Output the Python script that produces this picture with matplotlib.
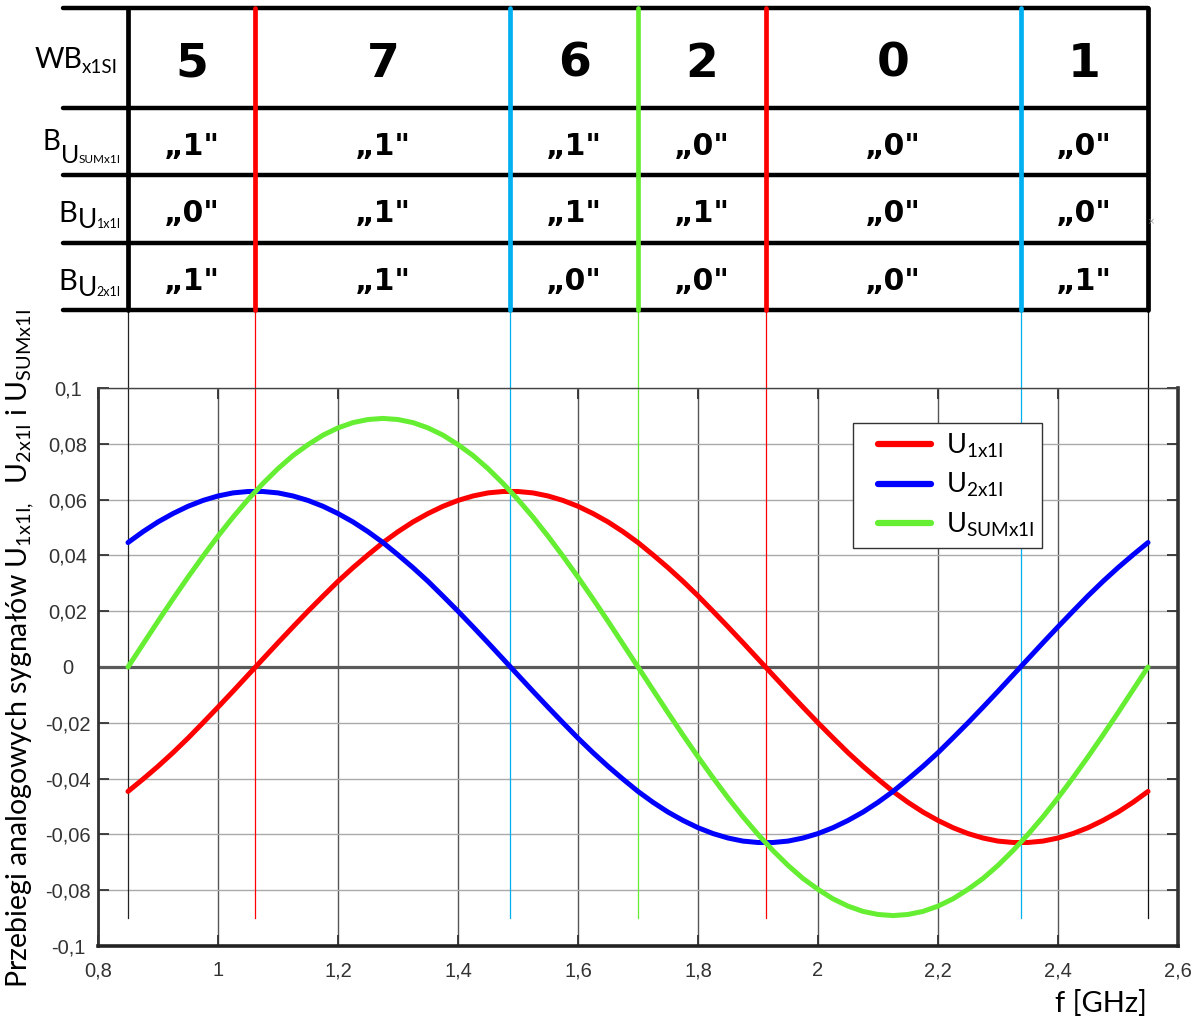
import matplotlib
matplotlib.use('Agg')
import matplotlib.pyplot as plt
from matplotlib.ticker import MultipleLocator, FuncFormatter
from matplotlib.legend_handler import HandlerLine2D
from matplotlib.lines import Line2D

plt.rcParams['mathtext.default'] = 'regular'

# ---------------- data ----------------
freq = [0.850, 0.875, 0.900, 0.925, 0.950, 0.975, 1.000, 1.025, 1.050, 1.075,
        1.100, 1.125, 1.150, 1.175, 1.200, 1.225, 1.250, 1.275, 1.300, 1.325,
        1.350, 1.375, 1.400, 1.425, 1.450, 1.475, 1.500, 1.525, 1.550, 1.575,
        1.600, 1.625, 1.650, 1.675, 1.700, 1.725, 1.750, 1.775, 1.800, 1.825,
        1.850, 1.875, 1.900, 1.925, 1.950, 1.975, 2.000, 2.025, 2.050, 2.075,
        2.100, 2.125, 2.150, 2.175, 2.200, 2.225, 2.250, 2.275, 2.300, 2.325,
        2.350, 2.375, 2.400, 2.425, 2.450, 2.475, 2.500, 2.525, 2.550]
u1 = [-0.0446, -0.0402, -0.0356, -0.0307, -0.0255, -0.0200, -0.0144, -0.0087, -0.0029, 0.0029,
      0.0087, 0.0144, 0.0200, 0.0254, 0.0307, 0.0356, 0.0402, 0.0446, 0.0485, 0.0520,
      0.0550, 0.0576, 0.0597, 0.0613, 0.0624, 0.0629, 0.0629, 0.0624, 0.0613, 0.0597,
      0.0576, 0.0550, 0.0520, 0.0485, 0.0446, 0.0402, 0.0356, 0.0307, 0.0255, 0.0200,
      0.0144, 0.0087, 0.0029, -0.0029, -0.0087, -0.0144, -0.0200, -0.0254, -0.0307, -0.0356,
      -0.0402, -0.0446, -0.0485, -0.0520, -0.0550, -0.0576, -0.0597, -0.0613, -0.0624, -0.0629,
      -0.0629, -0.0624, -0.0613, -0.0597, -0.0576, -0.0550, -0.0520, -0.0485, -0.0446]
u2 = [0.0446, 0.0485, 0.0520, 0.0550, 0.0576, 0.0597, 0.0613, 0.0624, 0.0629, 0.0629,
      0.0624, 0.0613, 0.0597, 0.0576, 0.0550, 0.0520, 0.0485, 0.0446, 0.0402, 0.0356,
      0.0307, 0.0254, 0.0200, 0.0144, 0.0087, 0.0029, -0.0029, -0.0087, -0.0144, -0.0200,
      -0.0255, -0.0307, -0.0356, -0.0402, -0.0446, -0.0485, -0.0520, -0.0550, -0.0576, -0.0597,
      -0.0613, -0.0624, -0.0629, -0.0629, -0.0624, -0.0613, -0.0597, -0.0576, -0.0550, -0.0520,
      -0.0485, -0.0446, -0.0402, -0.0356, -0.0307, -0.0254, -0.0200, -0.0144, -0.0087, -0.0029,
      0.0029, 0.0087, 0.0144, 0.0200, 0.0255, 0.0307, 0.0356, 0.0402, 0.0446]
usum = [0.0, 0.0082, 0.0164, 0.0244, 0.0322, 0.0397, 0.0469, 0.0537, 0.0600, 0.0658,
        0.0711, 0.0758, 0.0797, 0.0831, 0.0857, 0.0876, 0.0887, 0.0891, 0.0887, 0.0876,
        0.0857, 0.0831, 0.0797, 0.0758, 0.0711, 0.0658, 0.0600, 0.0537, 0.0469, 0.0397,
        0.0322, 0.0244, 0.0164, 0.0082, 0.0, -0.0082, -0.0164, -0.0244, -0.0322, -0.0397,
        -0.0469, -0.0537, -0.0600, -0.0658, -0.0711, -0.0758, -0.0797, -0.0831, -0.0857, -0.0876,
        -0.0887, -0.0891, -0.0887, -0.0876, -0.0857, -0.0831, -0.0797, -0.0758, -0.0711, -0.0658,
        -0.0600, -0.0537, -0.0469, -0.0397, -0.0322, -0.0244, -0.0164, -0.0082, 0.0]

series_labels = ['U$_{1x1I}$', 'U$_{2x1I}$', 'U$_{SUMx1I}$']
series_colors = ['#FF0000', '#0000FF', '#66EE33']

# zero-crossing boundaries (GHz) and their marker colours
bounds = [0.85, 1.0625, 1.4875, 1.70, 1.9125, 2.3375, 2.55]
bound_colors = ['#222222', '#FF0000', '#00B0F0', '#66EE33', '#FF0000', '#00B0F0', '#111111']

# table contents
wb_values = [5, 7, 6, 2, 0, 1]
b_usum = [1, 1, 1, 0, 0, 0]
b_u1 = [0, 1, 1, 1, 0, 0]
b_u2 = [1, 1, 0, 0, 0, 1]

xticks = [0.8, 1.0, 1.2, 1.4, 1.6, 1.8, 2.0, 2.2, 2.4, 2.6]
xlim = (0.8, 2.6)
ylim = (-0.1, 0.1)

# ---------------- layout ----------------
W, H = 1203, 1019
fig = plt.figure(figsize=(W / 100, H / 100), dpi=100)


def fx(px):
    return px / W


def fy(py):
    return 1 - py / H


AX_L, AX_R, AX_T, AX_B = 98, 1178, 388, 946
TAB_T, TAB_B = 8, 310
row_lines = [8, 108, 175, 243, 310]

ax = fig.add_axes([fx(AX_L), fy(AX_B), (AX_R - AX_L) / W, (AX_B - AX_T) / H])
ax.set_xlim(*xlim)
ax.set_ylim(*ylim)

ax.yaxis.set_major_locator(MultipleLocator(0.02))
ax.set_xticks(xticks)


def comma_fmt(v, pos=None):
    v = round(v, 3)
    if abs(v) < 1e-9:
        return '0'
    return ('%g' % v).replace('.', ',')


ax.xaxis.set_major_formatter(FuncFormatter(comma_fmt))
ax.yaxis.set_major_formatter(FuncFormatter(comma_fmt))

ax.set_axisbelow(True)
ax.grid(axis='x', color='#555555', lw=1.0)
ax.grid(axis='y', color='#aaaaaa', lw=1.0)
ax.axhline(0, color='#5a5a5a', lw=2.3, zorder=1.5)

ax.tick_params(axis='both', direction='in', length=8, width=1.3, color='#333333',
               top=True, right=True, labelsize=14.5, labelcolor='#333333')
ax.tick_params(axis='y', pad=21.5)
ax.tick_params(axis='x', pad=11)
for lab in ax.get_yticklabels() + ax.get_xticklabels():
    lab.set_family('Liberation Sans')
for lab in ax.get_yticklabels():
    lab.set_ha('center')

ax.spines['top'].set_linewidth(1.0)
ax.spines['top'].set_color('#444444')
ax.spines['left'].set_linewidth(2.0)
ax.spines['left'].set_color('#333333')
ax.spines['bottom'].set_linewidth(2.6)
ax.spines['bottom'].set_color('#222222')
ax.spines['right'].set_linewidth(2.6)
ax.spines['right'].set_color('#333333')

# thin boundary lines from the table down into the plot
y_gap_top = ylim[1] + (AX_T - TAB_B) / (AX_B - AX_T) * (ylim[1] - ylim[0])
for b, c in zip(bounds, bound_colors):
    ax.plot([b, b], [-0.09, y_gap_top], color=c, lw=0.9, clip_on=False, zorder=2.5)

for vals, lab, col in zip([u1, u2, usum], series_labels, series_colors):
    ax.plot(freq, vals, color=col, lw=3.6, label=lab, zorder=3,
            solid_capstyle='round', solid_joinstyle='round')

leg = ax.legend(loc='upper left',
                bbox_to_anchor=((853 - AX_L) / (AX_R - AX_L), 1 - (423 - AX_T) / (AX_B - AX_T)),
                prop={'family': 'Lato', 'size': 19.5}, frameon=True, fancybox=False,
                edgecolor='#333333', framealpha=1, handlelength=2.55, handletextpad=0.55,
                borderpad=0.32, labelspacing=0.42, borderaxespad=0,
                handler_map={Line2D: HandlerLine2D(xpad=0.6)})
leg.get_frame().set_linewidth(1.0)
for ln in leg.get_lines():
    ln.set_linewidth(4.5)
    ln.set_solid_capstyle('round')

# ---------------- table ----------------
tab = fig.add_axes([fx(AX_L), fy(TAB_B), (AX_R - AX_L) / W, (TAB_B - TAB_T) / H])
tab.set_xlim(*xlim)
tab.set_ylim(TAB_B, TAB_T)
tab.axis('off')

x_left = xlim[0] + (63 - AX_L) / (AX_R - AX_L) * (xlim[1] - xlim[0])
for y in row_lines:
    tab.plot([x_left, bounds[-1]], [y, y], color='black', lw=3.2,
             solid_capstyle='round', clip_on=False, zorder=2)
for b, c in zip(bounds, bound_colors):
    col = 'black' if b in (bounds[0], bounds[-1]) else c
    tab.plot([b, b], [TAB_T, TAB_B], color=col, lw=3.4, solid_capstyle='round',
             clip_on=False, zorder=3)

centers = [(bounds[i] + bounds[i + 1]) / 2 for i in range(len(bounds) - 1)]
row_centers = [(row_lines[i] + row_lines[i + 1]) / 2 for i in range(4)]
for cx, v in zip(centers, wb_values):
    tab.text(cx, row_centers[0] + 18.5, str(v), ha='center', va='baseline',
             fontsize=34, fontweight='bold', family='DejaVu Sans', color='black')
for r, vals in enumerate([b_usum, b_u1, b_u2]):
    for cx, v in zip(centers, vals):
        tab.text(cx, row_centers[r + 1] + 13, '\u201e%d"' % v, ha='center',
                 va='baseline', fontsize=21.5, fontweight='bold', family='DejaVu Sans',
                 color='black')

# row labels (composed from pieces to control sub-script sizes)
renderer = fig.canvas.get_renderer()


def compose(parts, x_right_px, base_px):
    objs = []
    widths = []
    for s, size, dy in parts:
        t = fig.text(0, 0, s, fontsize=size, family='Lato', ha='left',
                     va='baseline', color='black')
        widths.append(t.get_window_extent(renderer).width)
        objs.append((t, dy))
    x = x_right_px - sum(widths)
    for (t, dy), w in zip(objs, widths):
        t.set_position((fx(x), fy(base_px + dy)))
        x += w


compose([('WB', 20.5, 0), ('x1SI', 13.5, 5)], 118, 68)
compose([('B', 20, 0), ('U', 18, 13), ('SUMx1I', 8.5, 13)], 121, 150)
compose([('B', 21, 0), ('U', 19, 6), ('1x1I', 9, 6)], 121, 222)
compose([('B', 21, 0), ('U', 19, 6), ('2x1I', 9, 6)], 121, 290)

fig.text(fx(1151), fy(222), '\u00d7', fontsize=6, color='#999999', ha='center', va='center')

# axis titles
fig.text(fx(20), fy(649),
         'Przebiegi analogowych sygnałów U$_{1x1I,}$  U$_{2x1I}$ i U$_{SUMx1I}$',
         rotation=90, ha='center', va='center', fontsize=20.5, family='Lato')
fig.text(fx(1101), fy(1004), 'f [GHz]', ha='center', va='center', fontsize=21,
         family='Lato')

fig.savefig('out.png', dpi=100)
